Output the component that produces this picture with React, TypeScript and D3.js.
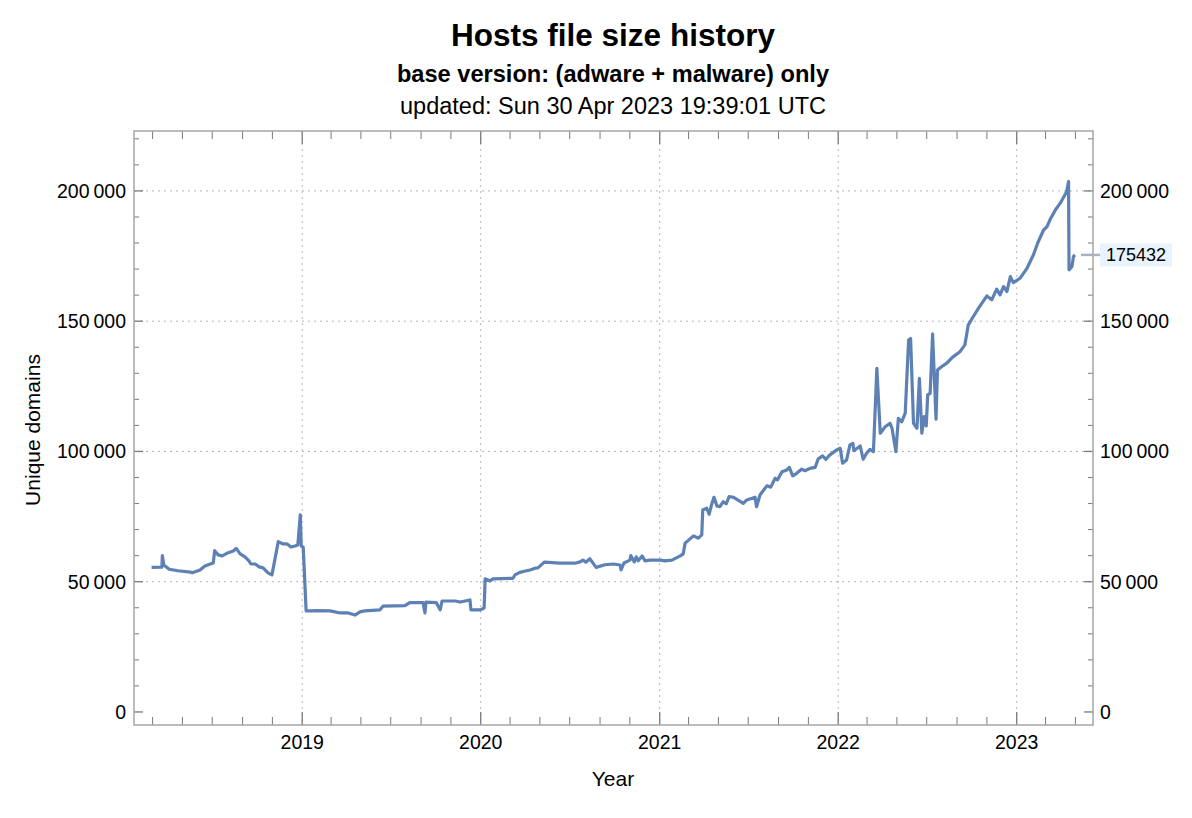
import React from 'react';
import * as d3 from 'd3';

type Sample = [string, number];

// unique domains per sample date
const history2018: Sample[] = [
  ['2018-02-27', 55500], ['2018-03-20', 55600], ['2018-03-21', 60000], ['2018-03-24', 56400],
  ['2018-04-04', 54800], ['2018-04-22', 54200], ['2018-05-17', 53700], ['2018-05-21', 53400],
  ['2018-06-06', 54500], ['2018-06-16', 56000], ['2018-06-27', 56800], ['2018-07-03', 57200],
  ['2018-07-06', 61900], ['2018-07-13', 60300], ['2018-07-21', 59900], ['2018-08-01', 61000],
  ['2018-08-13', 61800], ['2018-08-19', 62800], ['2018-08-27', 60700], ['2018-09-06', 59500],
  ['2018-09-14', 58000], ['2018-09-18', 56800], ['2018-09-27', 56800], ['2018-10-05', 55700],
  ['2018-10-13', 55300], ['2018-10-23', 53400], ['2018-10-31', 52600], ['2018-11-13', 65400],
  ['2018-11-23', 64500], ['2018-12-01', 64500], ['2018-12-09', 63300], ['2018-12-17', 63700],
  ['2018-12-23', 64100], ['2018-12-28', 75700], ['2018-12-30', 63700],
];

const history2019: Sample[] = [
  ['2019-01-03', 63300], ['2019-01-09', 38800], ['2019-01-17', 38800], ['2019-01-31', 38900],
  ['2019-02-27', 38800], ['2019-03-09', 38400], ['2019-03-19', 38000], ['2019-04-05', 38000],
  ['2019-04-19', 37200], ['2019-04-29', 38400], ['2019-05-09', 38800], ['2019-06-09', 39200],
  ['2019-06-15', 40600], ['2019-07-30', 40800], ['2019-08-09', 42000], ['2019-09-05', 42000],
  ['2019-09-09', 38000], ['2019-09-11', 42200], ['2019-10-02', 42000], ['2019-10-10', 39200],
  ['2019-10-14', 42600], ['2019-11-10', 42600], ['2019-11-20', 42200], ['2019-12-10', 43000],
  ['2019-12-12', 39200], ['2019-12-31', 39200],
];

const history2020: Sample[] = [
  ['2020-01-08', 39900], ['2020-01-10', 51100], ['2020-01-20', 50300], ['2020-01-26', 51100],
  ['2020-03-07', 51300], ['2020-03-11', 52600], ['2020-03-21', 53600], ['2020-03-30', 54000],
  ['2020-04-11', 54500], ['2020-04-21', 55200], ['2020-04-27', 55300], ['2020-05-10', 57500],
  ['2020-06-11', 57100], ['2020-07-12', 57100], ['2020-07-22', 57600], ['2020-07-28', 58300],
  ['2020-08-03', 57500], ['2020-08-11', 58800], ['2020-08-24', 55500], ['2020-09-11', 56500],
  ['2020-09-28', 56800], ['2020-10-12', 56400], ['2020-10-14', 54500], ['2020-10-20', 57200],
  ['2020-11-01', 58300], ['2020-11-03', 60000], ['2020-11-10', 57600], ['2020-11-14', 59500],
  ['2020-11-18', 58000], ['2020-11-26', 59900], ['2020-12-02', 58000], ['2020-12-12', 58300],
];

const history2021: Sample[] = [
  ['2021-01-02', 58300], ['2021-01-12', 58000], ['2021-01-26', 58300], ['2021-02-12', 59900],
  ['2021-02-18', 60700], ['2021-02-22', 64800], ['2021-03-11', 67600], ['2021-03-21', 66700],
  ['2021-03-28', 68000], ['2021-03-30', 77500], ['2021-04-07', 78200], ['2021-04-12', 75900],
  ['2021-04-17', 79500], ['2021-04-22', 82400], ['2021-04-28', 79100], ['2021-05-04', 78800],
  ['2021-05-11', 80700], ['2021-05-17', 79900], ['2021-05-23', 82700], ['2021-06-01', 82400],
  ['2021-06-21', 80100], ['2021-06-28', 81400], ['2021-07-15', 82400], ['2021-07-18', 78800],
  ['2021-07-25', 83300], ['2021-08-08', 86800], ['2021-08-16', 86300], ['2021-08-25', 89700],
  ['2021-08-30', 89100], ['2021-09-08', 92200], ['2021-09-18', 92900], ['2021-09-23', 93900],
  ['2021-09-30', 90600], ['2021-10-08', 91600], ['2021-10-18', 93200], ['2021-10-25', 92600],
  ['2021-11-04', 93500], ['2021-11-15', 93900], ['2021-11-21', 97100], ['2021-11-30', 98300],
  ['2021-12-07', 97000], ['2021-12-15', 98700], ['2021-12-29', 100600],
];

const history2022: Sample[] = [
  ['2022-01-05', 101200], ['2022-01-10', 95500], ['2022-01-18', 96700], ['2022-01-25', 102500],
  ['2022-01-31', 103100], ['2022-02-02', 100300], ['2022-02-15', 102100], ['2022-02-21', 97000],
  ['2022-02-28', 99300], ['2022-03-07', 100800], ['2022-03-14', 99900], ['2022-03-21', 131900],
  ['2022-03-28', 107000], ['2022-04-07', 109500], ['2022-04-17', 110800], ['2022-04-21', 108900],
  ['2022-04-29', 99900], ['2022-05-04', 112700], ['2022-05-11', 111400], ['2022-05-18', 114700],
  ['2022-05-25', 142800], ['2022-05-29', 143400], ['2022-06-04', 110800], ['2022-06-11', 108900],
  ['2022-06-16', 128100], ['2022-06-21', 107000], ['2022-06-26', 113400], ['2022-06-30', 109800],
  ['2022-07-03', 121700], ['2022-07-08', 122300], ['2022-07-13', 145100], ['2022-07-20', 112400],
  ['2022-07-23', 131300], ['2022-08-01', 132600], ['2022-08-11', 133900], ['2022-08-23', 136200],
  ['2022-09-07', 138300], ['2022-09-17', 140900], ['2022-09-24', 148600], ['2022-10-04', 151700],
  ['2022-10-15', 155000], ['2022-11-01', 159700], ['2022-11-11', 158200], ['2022-11-21', 162300],
  ['2022-11-28', 160100], ['2022-12-05', 163300], ['2022-12-12', 161400], ['2022-12-19', 167100],
  ['2022-12-25', 164800],
];

const history2023: Sample[] = [
  ['2023-01-08', 166500], ['2023-01-22', 170300], ['2023-02-04', 175400], ['2023-02-14', 180500],
  ['2023-02-25', 185000], ['2023-03-04', 186300], ['2023-03-10', 188900], ['2023-03-21', 192700],
  ['2023-03-31', 195300], ['2023-04-13', 199700], ['2023-04-17', 203600], ['2023-04-18', 169700],
  ['2023-04-24', 171000], ['2023-04-27', 174800], ['2023-04-30', 175432],
];

const yearTicks = ['2019', '2020', '2021', '2022', '2023'];
const yMajorTicks = [0, 50000, 100000, 150000, 200000];

const W = 1192;
const H = 818;
const FONT = '"Liberation Sans", Arial, sans-serif';
const LINE = '#5e81b5';
const FRAME = '#a6a6a6';
const TICK = '#7a7a7a';

const parse = d3.timeParse('%Y-%m-%d');

export default function App() {
  const data = [...history2018, ...history2019, ...history2020, ...history2021, ...history2022, ...history2023]
    .map(([d, v]) => ({ date: parse(d) as Date, value: v }));

  const left = 134, right = 1093, top = 131, bottom = 725;

  const x = d3.scaleTime()
    .domain([new Date(2018, 0, 22), new Date(2023, 5, 6)])
    .range([left, right]);
  const y = d3.scaleLinear().domain([-5000, 223000]).range([bottom, top]);

  const line = d3.line<{ date: Date; value: number }>()
    .x(d => x(d.date))
    .y(d => y(d.value))
    .curve(d3.curveLinear);

  const fmt = (v: number) => d3.format(',')(v).replace(/,/g, '\u2009');

  const years = yearTicks.map(s => new Date(+s, 0, 1));
  const months = x.ticks(d3.timeMonth.every(2)!).filter(d => d.getMonth() !== 0);
  const yMinor = d3.range(0, 223000, 10000).filter(v => v % 50000 !== 0);

  const last = data[data.length - 1];
  const ly = y(last.value);

  return (
    <div style={{ position: 'absolute', left: 0, top: 0 }}>
      <svg width={W} height={H} style={{ display: 'block', background: '#fff', fontFamily: FONT }}>
        <text x={613} y={46} textAnchor="middle" fontSize={31.5} fontWeight="bold">Hosts file size history</text>
        <text x={613} y={82} textAnchor="middle" fontSize={23.6} fontWeight="bold">base version: (adware + malware) only</text>
        <text x={613} y={114} textAnchor="middle" fontSize={23.5}>updated: Sun 30 Apr 2023 19:39:01 UTC</text>

        {/* grid */}
        <g stroke="#b4b4b4" strokeWidth={1} strokeDasharray="2,4">
          {years.map((d, i) => (
            <line key={'gx' + i} x1={x(d)} x2={x(d)} y1={top} y2={bottom} />
          ))}
          {yMajorTicks.filter(v => v > 0).map(v => (
            <line key={'gy' + v} x1={left} x2={right} y1={y(v)} y2={y(v)} />
          ))}
        </g>

        {/* ticks */}
        <g stroke={TICK} strokeWidth={1}>
          {months.map((d, i) => (
            <g key={'m' + i}>
              <line x1={x(d)} x2={x(d)} y1={bottom} y2={bottom - 8} />
              <line x1={x(d)} x2={x(d)} y1={top} y2={top + 8} />
            </g>
          ))}
          {years.map((d, i) => (
            <g key={'y' + i}>
              <line x1={x(d)} x2={x(d)} y1={bottom} y2={bottom - 13} strokeWidth={1.3} />
              <line x1={x(d)} x2={x(d)} y1={top} y2={top + 13} strokeWidth={1.3} />
            </g>
          ))}
          {yMinor.map(v => (
            <g key={'ym' + v}>
              <line x1={left} x2={left + 5} y1={y(v)} y2={y(v)} />
              <line x1={right} x2={right - 5} y1={y(v)} y2={y(v)} />
            </g>
          ))}
          {yMajorTicks.map(v => (
            <g key={'yM' + v}>
              <line x1={left} x2={left + 9} y1={y(v)} y2={y(v)} strokeWidth={1.3} />
              <line x1={right} x2={right - 9} y1={y(v)} y2={y(v)} strokeWidth={1.3} />
            </g>
          ))}
        </g>

        {/* frame */}
        <rect x={left} y={top} width={right - left} height={bottom - top} fill="none" stroke={FRAME} strokeWidth={1.5} />

        {/* tick labels */}
        <g fontSize={19.5} fill="#000">
          {yMajorTicks.map(v => (
            <g key={'yl' + v}>
              <text x={126} y={y(v)} dy="0.35em" textAnchor="end">{fmt(v)}</text>
              <text x={1100} y={y(v)} dy="0.35em" textAnchor="start">{fmt(v)}</text>
            </g>
          ))}
          {years.map((d, i) => (
            <text key={'xl' + i} x={x(d)} y={749} textAnchor="middle">{yearTicks[i]}</text>
          ))}
        </g>

        <text x={613} y={786} textAnchor="middle" fontSize={21}>Year</text>
        <text transform={`translate(40,430) rotate(-90)`} textAnchor="middle" fontSize={21}>Unique domains</text>

        {/* series */}
        <path d={line(data) ?? ''} fill="none" stroke={LINE} strokeWidth={3.2} strokeLinejoin="round" />

        {/* last value callout */}
        <line x1={x(last.date) + 6} x2={1100} y1={ly} y2={ly} stroke="#a9b3bd" strokeWidth={2.5} />
        <rect x={1100} y={ly - 11.5} width={72} height={23} fill="#e8f3fd" />
        <text x={1136} y={ly} dy="0.35em" textAnchor="middle" fontSize={18}>{last.value}</text>
      </svg>
    </div>
  );
}
